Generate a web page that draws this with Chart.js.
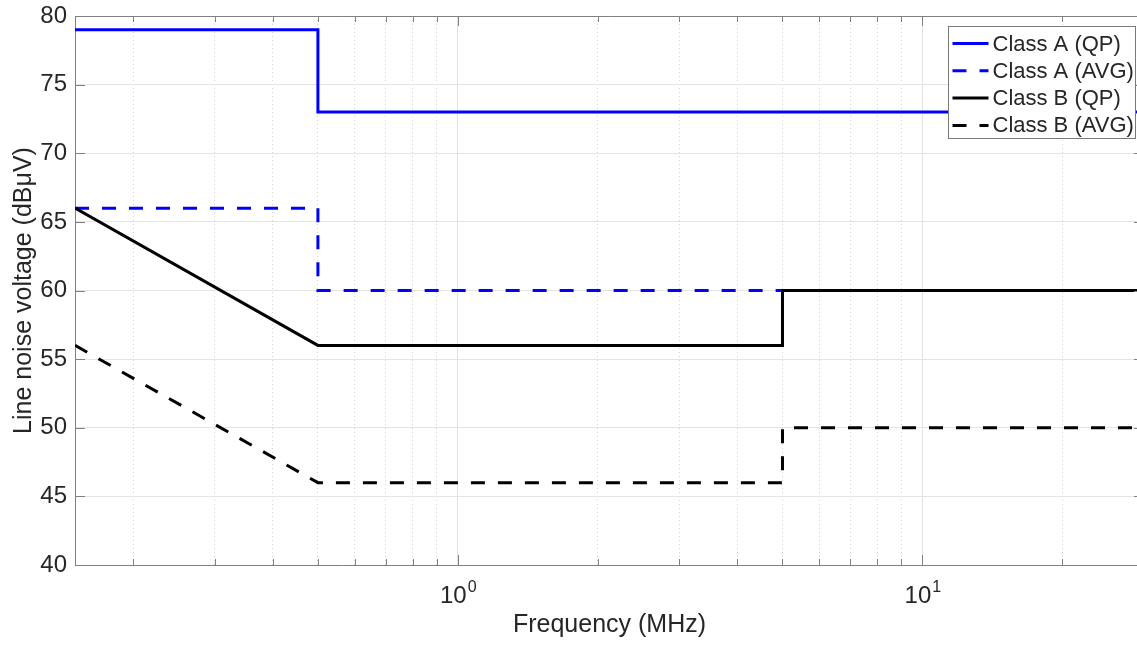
<!DOCTYPE html>
<html>
<head>
<meta charset="utf-8">
<script src="https://cdn.jsdelivr.net/npm/chart.js@4.4.0/dist/chart.umd.min.js"></script>
<style>
  html, body { margin: 0; padding: 0; background: #fff; overflow: hidden; }
  #wrap { width: 1137px; height: 646px; overflow: hidden; }
</style>
</head>
<body>
<div id="wrap"><canvas id="chart" width="1150" height="646"></canvas></div>
<script>
// Limites de ruído conduzido (MHz / dBuV)
const freqA = [0.15, 0.5, 0.5, 30];
const classAQP = [79, 79, 73, 73];
const classAAVG = [66, 66, 60, 60];
const freqB = [0.15, 0.5, 5, 5, 30];
const classBQP = [66, 56, 56, 60, 60];
const classBAVG = [56, 46, 46, 50, 50];
const seriesNames = ["Class A (QP)", "Class A (AVG)", "Class B (QP)", "Class B (AVG)"];

const xMajorTicks = [1, 10];
const xTickExponents = ["0", "1"];
const xMinorTicks = [0.2, 0.3, 0.4, 0.5, 0.6, 0.7, 0.8, 0.9, 2, 3, 4, 5, 6, 7, 8, 9, 20, 30];

const FONT = "'Liberation Sans', Arial, Helvetica, sans-serif";
const TEXT = "#262626";
const AXIS = "#808080";

function toPoints(xs, ys) {
    return xs.map(function (x, i) { return { x: x, y: ys[i] }; });
}

// Eixos estilo MATLAB: caixa, marcas internas, rótulos 10^n e legenda
const matlabAxes = {
    id: "matlabAxes",
    afterDraw: function (chart) {
        const ctx = chart.ctx;
        const area = chart.chartArea;
        const xs = chart.scales.x;
        const ys = chart.scales.y;
        ctx.save();

        // caixa
        ctx.strokeStyle = AXIS;
        ctx.lineWidth = 1;
        ctx.beginPath();
        ctx.moveTo(area.left, area.top + 0.5);
        ctx.lineTo(area.right, area.top + 0.5);
        ctx.moveTo(area.right - 0.5, area.top);
        ctx.lineTo(area.right - 0.5, area.bottom);
        ctx.stroke();

        // marcas no eixo y
        ctx.beginPath();
        ys.ticks.forEach(function (t) {
            const py = Math.round(ys.getPixelForValue(t.value)) + 0.5;
            ctx.moveTo(area.left, py);
            ctx.lineTo(area.left + 10, py);
            ctx.moveTo(area.right, py);
            ctx.lineTo(area.right - 10, py);
        });
        // marcas no eixo x
        xMajorTicks.forEach(function (v) {
            const px = Math.round(xs.getPixelForValue(v)) + 0.5;
            ctx.moveTo(px, area.bottom);
            ctx.lineTo(px, area.bottom - 10);
            ctx.moveTo(px, area.top);
            ctx.lineTo(px, area.top + 10);
        });
        xMinorTicks.forEach(function (v) {
            const px = Math.round(xs.getPixelForValue(v)) + 0.5;
            ctx.moveTo(px, area.bottom);
            ctx.lineTo(px, area.bottom - 6);
            ctx.moveTo(px, area.top);
            ctx.lineTo(px, area.top + 6);
        });
        ctx.stroke();

        // rótulos 10^n
        ctx.fillStyle = TEXT;
        ctx.textBaseline = "alphabetic";
        ctx.textAlign = "left";
        xMajorTicks.forEach(function (v, i) {
            const px = xs.getPixelForValue(v);
            ctx.font = "24px " + FONT;
            const wBase = ctx.measureText("10").width;
            ctx.font = "16px " + FONT;
            const wExp = ctx.measureText(xTickExponents[i]).width;
            const x0 = px - (wBase + wExp) / 2;
            ctx.font = "24px " + FONT;
            ctx.fillText("10", x0, area.bottom + 38);
            ctx.font = "16px " + FONT;
            ctx.fillText(xTickExponents[i], x0 + wBase + 1, area.bottom + 27);
        });

        // legenda
        const bw = 187, bh = 112;
        const bx = Math.round(area.right - 9 - bw) + 0.5;
        const by = Math.round(area.top + 10) + 0.5;
        ctx.fillStyle = "#ffffff";
        ctx.fillRect(bx, by, bw, bh);
        ctx.strokeStyle = "#7a7a7a";
        ctx.lineWidth = 1;
        ctx.strokeRect(bx, by, bw, bh);
        ctx.font = "22px " + FONT;
        ctx.textBaseline = "middle";
        chart.data.datasets.forEach(function (ds, i) {
            const cy = by + 17 + i * 27.3;
            ctx.strokeStyle = ds.borderColor;
            ctx.lineWidth = ds.borderWidth;
            ctx.setLineDash(ds.borderDash || []);
            ctx.beginPath();
            ctx.moveTo(bx + 4, cy);
            ctx.lineTo(bx + 40, cy);
            ctx.stroke();
            ctx.setLineDash([]);
            ctx.fillStyle = TEXT;
            ctx.fillText(ds.label, bx + 44, cy + 1);
        });
        ctx.restore();
    }
};

new Chart(document.getElementById("chart"), {
    type: "line",
    data: {
        datasets: [
            { label: seriesNames[0], data: toPoints(freqA, classAQP), borderColor: "#0000ff", borderWidth: 3, order: 3 },
            { label: seriesNames[1], data: toPoints(freqA, classAAVG), borderColor: "#0000ff", borderWidth: 3, borderDash: [14, 13], order: 2 },
            { label: seriesNames[2], data: toPoints(freqB, classBQP), borderColor: "#000000", borderWidth: 3, order: 1 },
            { label: seriesNames[3], data: toPoints(freqB, classBAVG), borderColor: "#000000", borderWidth: 3, borderDash: [14, 13], order: 0 }
        ]
    },
    options: {
        responsive: false,
        animation: false,
        layout: { padding: { top: 16, right: 6, left: 0, bottom: 0 } },
        elements: {
            point: { radius: 0 },
            line: { tension: 0, fill: false, borderJoinStyle: "miter" }
        },
        plugins: {
            legend: { display: false },
            tooltip: { enabled: false }
        },
        scales: {
            x: {
                type: "logarithmic",
                position: "bottom",
                min: 0.15,
                max: 30,
                bounds: "data",
                afterBuildTicks: function (scale) {
                    scale.ticks = xMajorTicks.map(function (v) { return { value: v }; });
                },
                afterFit: function (scale) {
                    scale.height = 81;
                    scale.paddingLeft = 0;
                    scale.paddingRight = 0;
                },
                ticks: { display: false },
                grid: { color: "#e2e2e2", lineWidth: 1, drawTicks: false },
                border: { color: AXIS, width: 1 },
                title: {
                    display: true,
                    text: "Frequency (MHz)",
                    color: TEXT,
                    font: { family: FONT, size: 25 },
                    padding: { top: 0, bottom: 6 }
                }
            },
            xMinor: {
                type: "logarithmic",
                position: "top",
                min: 0.15,
                max: 30,
                bounds: "data",
                afterBuildTicks: function (scale) {
                    scale.ticks = xMinorTicks.map(function (v) { return { value: v }; });
                },
                afterFit: function (scale) {
                    scale.height = 0;
                    scale.paddingLeft = 0;
                    scale.paddingRight = 0;
                },
                ticks: { display: false },
                grid: { color: "#d2d2d2", lineWidth: 1, drawTicks: false },
                border: { display: false, dash: [1, 3] }
            },
            y: {
                min: 40,
                max: 80,
                afterFit: function (scale) {
                    scale.width = 75;
                    scale.paddingTop = 0;
                    scale.paddingBottom = 0;
                },
                ticks: {
                    stepSize: 5,
                    color: TEXT,
                    font: { family: FONT, size: 24 },
                    padding: 8
                },
                grid: { color: "#e4e4e4", lineWidth: 1, drawTicks: false },
                border: { color: AXIS, width: 1 },
                title: {
                    display: true,
                    text: "Line noise voltage (dBμV)",
                    color: TEXT,
                    font: { family: FONT, size: 25 },
                    padding: { top: 9, bottom: 0 }
                }
            }
        }
    },
    plugins: [matlabAxes]
});
</script>
</body>
</html>
